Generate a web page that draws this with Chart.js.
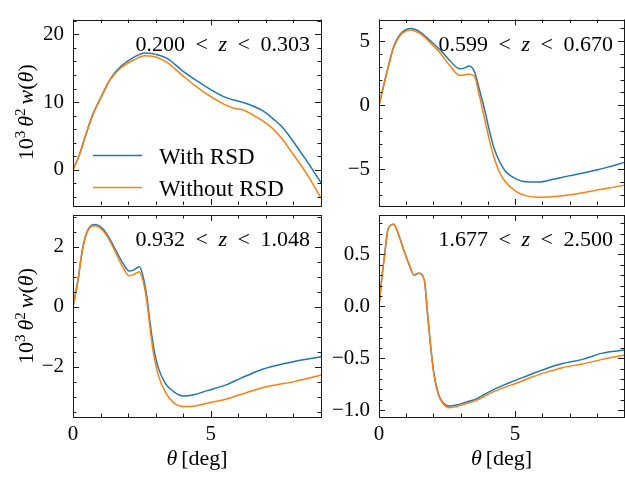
<!DOCTYPE html>
<html>
<head>
<meta charset="utf-8">
<script src="https://cdn.jsdelivr.net/npm/chart.js@4.4.0/dist/chart.umd.min.js"></script>
<style>
  body { margin: 0; background: #fff; }
  #wrap { position: relative; width: 625px; height: 479px; background: #fff; }
  #wrap canvas { position: absolute; left: 0; top: 0; }
</style>
</head>
<body>
<div id="wrap">
  <canvas id="c0" width="625" height="479"></canvas>
  <canvas id="c1" width="625" height="479"></canvas>
  <canvas id="c2" width="625" height="479"></canvas>
  <canvas id="c3" width="625" height="479"></canvas>
</div>
<script>
// ---- data (theta in deg, 10^3 theta^2 w(theta)) ----
const seriesLabels = ['With RSD', 'Without RSD'];
const xTicks = [0, 5];
const xLim = [0, 9];

// bin 1: 0.200 < z < 0.303
const zBin1 = ['0.200', '0.303'];
const theta1 = [0, 0.24, 0.49, 0.73, 1.0, 1.35, 1.72, 2.2, 2.6, 3.0, 3.4, 4.01, 4.74, 5.47, 5.84, 6.2, 6.57, 6.9, 7.3, 7.6, 7.9, 8.5, 9.0];
const withRsd1 = [0, 2.3, 5.5, 8.3, 10.6, 13.4, 15.2, 16.6, 17.25, 17.05, 16.5, 14.5, 12.5, 10.8, 10.3, 9.9, 9.35, 8.7, 7.4, 6.3, 4.7, 1.2, -1.9];
const withoutRsd1 = [0, 2.3, 5.5, 8.2, 10.5, 13.3, 15.0, 16.2, 16.85, 16.65, 15.9, 13.8, 11.5, 9.7, 9.1, 8.8, 8.0, 7.2, 5.9, 4.5, 2.8, -0.7, -4.2];
const yTicks1 = [0, 10, 20];
const yLim1 = [-5.2, 22.2];

// bin 2: 0.599 < z < 0.670
const zBin2 = ['0.599', '0.670'];
const theta2 = [0, 0.29, 0.54, 0.78, 1.0, 1.15, 1.5, 1.87, 2.24, 2.6, 2.96, 3.16, 3.3, 3.5, 3.69, 3.87, 4.05, 4.23, 4.42, 4.66, 5.03, 5.39, 5.88, 6.36, 6.97, 7.47, 7.95, 8.44, 9.0];
const withRsd2 = [0, 2.6, 4.58, 5.54, 5.9, 5.98, 5.73, 5.06, 4.34, 3.49, 2.85, 2.92, 3.07, 2.65, 1.21, -0.24, -1.93, -3.37, -4.34, -5.18, -5.73, -5.95, -5.97, -5.78, -5.5, -5.3, -5.06, -4.8, -4.45];
const withoutRsd2 = [0, 2.55, 4.5, 5.45, 5.8, 5.88, 5.6, 4.9, 4.1, 3.1, 2.34, 2.38, 2.42, 2.29, 0.72, -0.96, -2.65, -4.1, -5.18, -6.02, -6.7, -7.04, -7.17, -7.12, -6.99, -6.82, -6.63, -6.45, -6.22];
const yTicks2 = [-5, 0, 5];
const yLim2 = [-7.77, 6.69];

// bin 3: 0.932 < z < 1.048
const zBin3 = ['0.932', '1.048'];
const theta3 = [0, 0.18, 0.34, 0.51, 0.77, 0.97, 1.22, 1.52, 1.82, 2.04, 2.19, 2.41, 2.55, 2.68, 2.8, 2.92, 3.1, 3.35, 3.65, 4.01, 4.38, 4.87, 5.6, 6.08, 6.81, 7.3, 8.03, 9.0];
const withRsd3 = [0, 0.89, 1.9, 2.5, 2.74, 2.69, 2.44, 1.94, 1.44, 1.19, 1.22, 1.33, 0.98, 0.33, -0.56, -1.33, -2.05, -2.56, -2.83, -2.98, -2.94, -2.8, -2.59, -2.39, -2.11, -1.98, -1.83, -1.67];
const withoutRsd3 = [0, 0.88, 1.88, 2.48, 2.7, 2.64, 2.38, 1.86, 1.3, 1.03, 1.07, 1.17, 0.83, 0.17, -0.75, -1.55, -2.3, -2.85, -3.2, -3.33, -3.32, -3.22, -3.07, -2.93, -2.72, -2.62, -2.5, -2.28];
const yTicks3 = [-2, 0, 2];
const yLim3 = [-3.68, 3.06];

// bin 4: 1.677 < z < 2.500
const zBin4 = ['1.677', '2.500'];
const theta4 = [0, 0.11, 0.2, 0.33, 0.54, 0.72, 0.9, 1.11, 1.29, 1.45, 1.66, 1.78, 1.9, 2.02, 2.18, 2.36, 2.6, 2.85, 3.21, 3.58, 4.06, 4.55, 5.04, 5.52, 6.13, 6.74, 7.47, 8.2, 9.0];
const withRsd4 = [0, 0.29, 0.48, 0.74, 0.79, 0.69, 0.55, 0.40, 0.30, 0.32, 0.26, -0.06, -0.39, -0.65, -0.84, -0.93, -0.96, -0.95, -0.92, -0.89, -0.82, -0.76, -0.71, -0.66, -0.6, -0.55, -0.51, -0.45, -0.42];
const withoutRsd4 = [0, 0.29, 0.48, 0.74, 0.79, 0.69, 0.55, 0.40, 0.30, 0.32, 0.26, -0.06, -0.39, -0.66, -0.85, -0.94, -0.975, -0.965, -0.935, -0.905, -0.84, -0.785, -0.74, -0.69, -0.635, -0.59, -0.555, -0.51, -0.47];
const yTicks4 = [-1, -0.5, 0, 0.5];
const yLim4 = [-1.065, 0.88];

// ---- styling / layout ----
const BLUE = '#1f77b4';
const ORANGE = '#ff7f0e';
const FONT = '"Liberation Serif", "Times New Roman", serif';
const W = 625, H = 479;

function font(size, italic) {
    return (italic ? 'italic ' : '') + size + 'px ' + FONT;
}

function minus(s) {
    return s.replace('-', '\u2212');
}

// draw a run of text pieces (mixed upright / italic / superscript)
function drawRun(ctx, parts, x, y, align) {
    let w = 0;
    parts.forEach(p => {
        if (p.gap) { w += p.gap; return; }
        ctx.font = font(p.size || 22, p.it);
        p.w = ctx.measureText(p.t).width;
        w += p.w;
    });
    let cx = align === 'right' ? x - w : align === 'center' ? x - w / 2 : x;
    ctx.textAlign = 'left';
    ctx.textBaseline = 'alphabetic';
    parts.forEach(p => {
        if (p.gap) { cx += p.gap; return; }
        ctx.font = font(p.size || 22, p.it);
        ctx.fillText(p.t, cx, y - (p.up || 0));
        cx += p.w;
    });
}

const framePlugin = {
    id: 'frame',
    afterDraw(chart, args, opts) {
        const ctx = chart.ctx;
        const a = chart.chartArea;
        const sx = chart.scales.x, sy = chart.scales.y;
        ctx.save();
        ctx.strokeStyle = '#1a1a1a';
        ctx.lineWidth = 1;

        const marks = (scale, majors, step) => {
            const out = [];
            const k0 = Math.ceil(scale.min / step - 1e-9), k1 = Math.floor(scale.max / step + 1e-9);
            for (let k = k0; k <= k1; k++) {
                const v = k * step;
                const major = majors.some(m => Math.abs(m - v) < step / 10);
                out.push({ p: Math.round(scale.getPixelForValue(v)) + 0.5, len: major ? 6 : 3.5 });
            }
            return out;
        };

        ctx.beginPath();
        marks(sx, xTicks, 1).forEach(m => {
            ctx.moveTo(m.p, a.bottom); ctx.lineTo(m.p, a.bottom - m.len);
            ctx.moveTo(m.p, a.top); ctx.lineTo(m.p, a.top + m.len);
        });
        marks(sy, opts.yTicks, opts.yMinor).forEach(m => {
            ctx.moveTo(a.left, m.p); ctx.lineTo(a.left + m.len, m.p);
            ctx.moveTo(a.right, m.p); ctx.lineTo(a.right - m.len, m.p);
        });
        ctx.stroke();
        ctx.strokeRect(Math.round(a.left) + 0.5, Math.round(a.top) + 0.5,
            Math.round(a.right - a.left), Math.round(a.bottom - a.top));

        ctx.fillStyle = '#000';
        // redshift bin label
        const z = opts.zBin;
        drawRun(ctx, [{ t: z[0] }, { gap: 10.5 }, { t: '<' }, { gap: 10.5 }, { t: 'z', it: true },
            { gap: 10.5 }, { t: '<' }, { gap: 10.5 }, { t: z[1] }], a.right - 11, a.top + 31, 'right');

        if (opts.legend) {
            chart.data.datasets.forEach((ds, i) => {
                const ly = a.top + 136 + i * 32;
                ctx.strokeStyle = ds.borderColor;
                ctx.lineWidth = 1.5;
                ctx.beginPath();
                ctx.moveTo(a.left + 20, ly); ctx.lineTo(a.left + 69, ly);
                ctx.stroke();
                ctx.font = font(23);
                ctx.textAlign = 'left';
                ctx.textBaseline = 'alphabetic';
                ctx.fillText(ds.label, a.left + 86, ly + 8);
            });
        }

        if (opts.yTitle) {
            ctx.save();
            ctx.translate(33, (a.top + a.bottom) / 2);
            ctx.rotate(-Math.PI / 2);
            drawRun(ctx, [{ t: '10' }, { t: '3', size: 15, up: 8 }, { gap: 4 }, { t: '\u03b8', it: true },
                { t: '2', size: 15, up: 8 }, { gap: 4 }, { t: 'w', it: true }, { t: '(' },
                { t: '\u03b8', it: true }, { t: ')' }], 0, 0, 'center');
            ctx.restore();
        }

        if (opts.xTitle) {
            drawRun(ctx, [{ t: '\u03b8', it: true }, { gap: 4 }, { t: '[deg]' }],
                (a.left + a.right) / 2, 465, 'center');
        }
        ctx.restore();
    }
};

const panels = [
    { id: 'c0', area: [73, 4, 321, 205], x: theta1, a: withRsd1, b: withoutRsd1, yTicks: yTicks1, yLim: yLim1, yMinor: 2, zBin: zBin1, legend: true, yTitle: true, xLabels: false, dec: 0 },
    { id: 'c1', area: [379, 4, 624, 205], x: theta2, a: withRsd2, b: withoutRsd2, yTicks: yTicks2, yLim: yLim2, yMinor: 1, zBin: zBin2, legend: false, yTitle: false, xLabels: false, dec: 0 },
    { id: 'c2', area: [73, 215, 321, 417], x: theta3, a: withRsd3, b: withoutRsd3, yTicks: yTicks3, yLim: yLim3, yMinor: 0.5, zBin: zBin3, legend: false, yTitle: true, xLabels: true, dec: 0 },
    { id: 'c3', area: [379, 215, 624, 417], x: theta4, a: withRsd4, b: withoutRsd4, yTicks: yTicks4, yLim: yLim4, yMinor: 0.1, zBin: zBin4, legend: false, yTitle: false, xLabels: true, dec: 1 }
];

panels.forEach(p => {
    const [l, t, r, b] = p.area;
    const xh = 30;
    new Chart(document.getElementById(p.id), {
        type: 'line',
        data: {
            datasets: [
                {
                    label: seriesLabels[0],
                    data: p.x.map((v, i) => ({ x: v, y: p.a[i] })),
                    borderColor: BLUE, borderWidth: 1.5, pointRadius: 0,
                    cubicInterpolationMode: 'monotone', order: 1
                },
                {
                    label: seriesLabels[1],
                    data: p.x.map((v, i) => ({ x: v, y: p.b[i] })),
                    borderColor: ORANGE, borderWidth: 1.5, pointRadius: 0,
                    cubicInterpolationMode: 'monotone', order: 0
                }
            ]
        },
        options: {
            responsive: false,
            animation: false,
            devicePixelRatio: 1,
            layout: { padding: { left: 0, top: t, right: W - r, bottom: H - b - xh } },
            plugins: {
                legend: { display: false },
                tooltip: { enabled: false },
                frame: { yTicks: p.yTicks, yMinor: p.yMinor, zBin: p.zBin, legend: p.legend, yTitle: p.yTitle, xTitle: p.xLabels }
            },
            scales: {
                x: {
                    type: 'linear', min: xLim[0], max: xLim[1],
                    grid: { display: false, drawTicks: false }, border: { display: false },
                    afterBuildTicks: s => { s.ticks = xTicks.map(v => ({ value: v })); },
                    afterFit: s => { s.height = xh; },
                    ticks: { display: p.xLabels, color: '#000', padding: 7, maxRotation: 0, font: { family: FONT, size: 21, lineHeight: 1 } }
                },
                y: {
                    type: 'linear', min: p.yLim[0], max: p.yLim[1],
                    grid: { display: false, drawTicks: false }, border: { display: false },
                    afterBuildTicks: s => { s.ticks = p.yTicks.map(v => ({ value: v })); },
                    afterFit: s => { s.width = l; },
                    ticks: {
                        color: '#000', padding: 9, font: { family: FONT, size: 21, lineHeight: 1 },
                        callback: v => minus(Number(v).toFixed(p.dec))
                    }
                }
            }
        },
        plugins: [framePlugin]
    });
});
</script>
</body>
</html>
